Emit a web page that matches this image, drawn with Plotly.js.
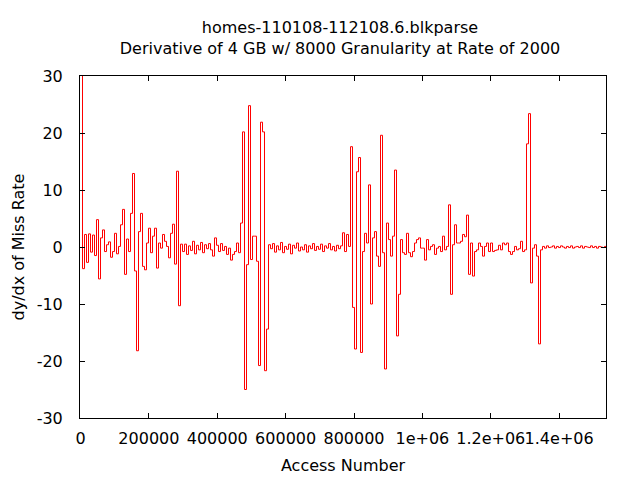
<!DOCTYPE html>
<html>
<head>
<meta charset="utf-8">
<script src="https://cdn.plot.ly/plotly-3.0.1.min.js"></script>
<style>
  html, body { margin: 0; padding: 0; background: #ffffff; }
  #chart { width: 640px; height: 480px; }
</style>
</head>
<body>
<div id="chart"></div>
<script>
// Sampling grid of the derivative (access numbers between successive samples)
const accessStep = 5850;

// dy/dx of miss rate, in four consecutive stretches
const derivPart1 = [31, -3.8, 2.2, -2.7, 2.3, -0.9, 2.1, -1.5, 4.8, -5.6,
  1.6, 3.0, -0.8, 0.4, 0.9, -1.8, -0.8, 2.4, -1.2, 0.1,
  3.9, 6.6, -4.8, 1.4, -0.8, 5.9, 12.9, -4.2, -18.2, 2.7,
  5.9, -3.4, -4.0, 0.7, 3.3, -1.0, 1.9, 3.3, -3.7, 0.7,
  -0.2, 2.2, 1.0, 0.1, -1.9, 2.4, 4.0, -3.0, 13.3, -10.3,
  0.5, -0.8, 0.5, -1.3, 0.2, -0.6, 1.0, -1.2, 0.3, -0.5,
  0.8, -1.0, 0.4, -0.3, 0.6, -0.5];

const derivPart2 = [-1.6, 1.6, 0.3, -0.8, 0.6, -0.6, 0.1, -1.3, -0.2, -2.3,
  -1.3, -0.8, 0.7, -1.0, 4.2, 20.2, -25, -3.1, 24.8, -2.2,
  1.9, 1.9, -2.5, -20.8, 21.9, 20.2, -21.7, -14.4, 0.4,
  -0.3, 0.6, -0.9, 0.2, -0.5, 0.8, -1.0, 0.1, -0.4, 0.5,
  -1.2, 0.3, -0.2, 0.7, -0.7, 0.0, -0.5, 0.4, -0.9, 0.2,
  -0.3, 0.6, -0.6, 0.1, -0.4, 0.5, -0.8, 0.2, -0.2, 0.6,
  -0.5, 0.1, -0.7, 0.3, -0.3, 0.2];

const derivPart3 = [2.5, -0.8, 2.2, 0.1, 17.6, -10.6, -17.9, 13.2, 15.7, -18.5,
  -0.8, 2.4, 0.7, 10.9, -10.0, 1.6, 2.7, -1.6, -3.4, 19.6,
  -1.0, -21.4, 4.2, 1.3, -1.6, 1.9, 13.5, -15.6, -8.3, 1.3,
  -1.0, -1.3, 2.4, -1.0, -1.7, -0.8, 0.7, 1.3, 1.6, -0.2,
  -0.2, -2.3, 1.3, -0.5, 0.1, 0.4, -1.3, -0.2, 0.1, -0.8,
  1.9, -0.5, 0.1, 7.4, -8.3, 0.4, 3.9, 0.7, 0.7, 1.0,
  2.2, 1.8, 5.6, -4.8, 0.7];

const derivPart4 = [-5.1, -0.8, -0.5, 0.7, 0.1, -1.6, 0.1, 0.7, -0.8, 0.7,
  -0.8, -0.6, -0.5, 0.3, -0.5, 0.7, 0.4, 0.7, -0.8, -1.3,
  -0.8, 0.1, -0.5, -0.3, 1.0, -0.8, -0.5, 18.1, 23.4, -6.3,
  -0.2, 0.4, -1.6, -17, -0.5,
  0.1, -0.2, 0.2, -0.1, 0.0, 0.2, -0.2, 0.1, -0.1, 0.2,
  0.0, -0.2, 0.1, -0.1, 0.2, -0.2, 0.0, 0.1, -0.1, 0.2,
  -0.2, 0.1, 0.0, -0.1, 0.2, -0.1, 0.1, -0.2, 0.1, 0.0,
  -0.1, 0.1, 0.0];

const xTickValues = [0, 200000, 400000, 600000, 800000, 1000000, 1200000, 1400000];
const xTickLabels = ["0", "200000", "400000", "600000", "800000", "1e+06", "1.2e+06", "1.4e+06"];
const yTickValues = [-30, -20, -10, 0, 10, 20, 30];
const yTickLabels = ["-30", "-20", "-10", "0", "10", "20", "30"];
const xRange = [-1462, 1537088];
const yRange = [-30, 30];

const derivative = derivPart1.concat(derivPart2, derivPart3, derivPart4);
const accessNumber = derivative.map((_, i) => i * accessStep);

const fam = "DejaVu Sans, sans-serif";
const txt = () => ({ family: fam, size: 16, color: "#000000" });

const trace = {
  type: "scatter",
  mode: "lines",
  x: accessNumber,
  y: derivative,
  line: { color: "#ff0000", width: 1, shape: "hv" },
  showlegend: false,
  hoverinfo: "skip"
};

const axisCommon = () => ({
  showgrid: false,
  zeroline: false,
  showline: true,
  linecolor: "#000000",
  linewidth: 1,
  mirror: "ticks",
  ticks: "inside",
  ticklen: 5,
  tickwidth: 1,
  tickcolor: "#000000",
  tickangle: 0,
  tickfont: txt(),
  tickmode: "array"
});

const layout = {
  width: 640,
  height: 480,
  paper_bgcolor: "#ffffff",
  plot_bgcolor: "#ffffff",
  margin: { l: 80, r: 34, t: 76, b: 62 },
  font: txt(),
  title: {
    text: "homes-110108-112108.6.blkparse<br>Derivative of 4 GB w/ 8000 Granularity at Rate of 2000",
    font: txt(),
    x: 340 / 640,
    xref: "container",
    xanchor: "center",
    y: 1 - 33 / 480,
    yref: "container",
    yanchor: "top"
  },
  xaxis: Object.assign(axisCommon(), {
    range: xRange,
    tickvals: xTickValues,
    ticktext: xTickLabels,
    ticklabelstandoff: 6,
    title: { text: "Access Number", font: txt(), standoff: 12 }
  }),
  yaxis: Object.assign(axisCommon(), {
    range: yRange,
    tickvals: yTickValues,
    ticktext: yTickLabels,
    ticklabelstandoff: 13,
    title: { text: "dy/dx of Miss Rate", font: txt(), standoff: 8 }
  })
};

Plotly.newPlot("chart", [trace], layout, { staticPlot: true, displayModeBar: false });
</script>
</body>
</html>
